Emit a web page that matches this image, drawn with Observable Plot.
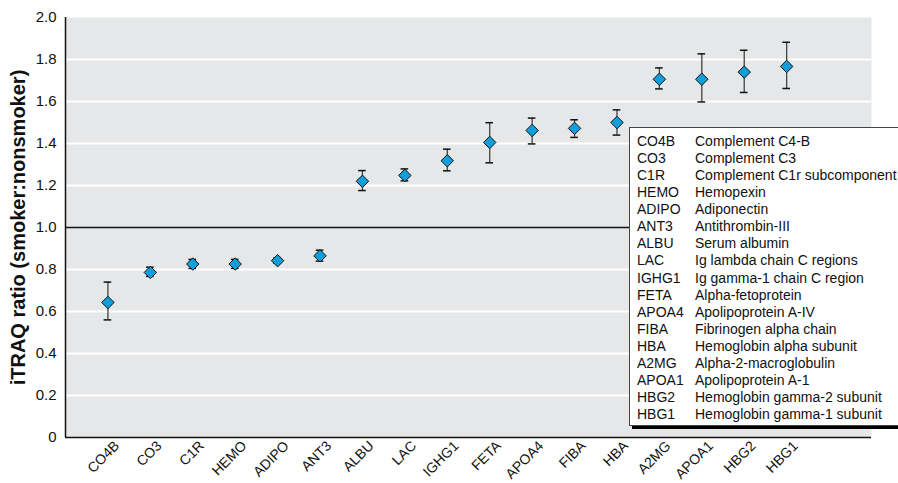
<!DOCTYPE html>
<html>
<head>
<meta charset="utf-8">
<script src="https://cdn.jsdelivr.net/npm/d3@7"></script>
<script src="https://cdn.jsdelivr.net/npm/@observablehq/plot@0.6"></script>
<style>
  html, body { margin: 0; padding: 0; background: #fff; }
  #wrap { position: relative; width: 898px; height: 483px; overflow: hidden; }
  #legend {
    position: absolute; left: 629px; top: 127px; width: 300px; height: 299px;
    background: #fff; border: 1px solid #444; box-shadow: 3px 3px 0 #000;
    font-family: "Liberation Sans", Arial, sans-serif;
    font-size: 14px; line-height: 17.06px; color: #111; padding-top: 5px; box-sizing: border-box;
  }
  #legend .row { display: flex; white-space: nowrap; }
  #legend .ab { flex: none; width: 58px; padding-left: 7px; }
</style>
</head>
<body>
<div id="wrap"><div id="chart"></div><div id="legend"></div></div>
<script>
const names = ["CO4B","CO3","C1R","HEMO","ADIPO","ANT3","ALBU","LAC","IGHG1","FETA","APOA4","FIBA","HBA","A2MG","APOA1","HBG2","HBG1"];
const fullNames = ["Complement C4-B","Complement C3","Complement C1r subcomponent","Hemopexin","Adiponectin","Antithrombin-III","Serum albumin","Ig lambda chain C regions","Ig gamma-1 chain C region","Alpha-fetoprotein","Apolipoprotein A-IV","Fibrinogen alpha chain","Hemoglobin alpha subunit","Alpha-2-macroglobulin","Apolipoprotein A-1","Hemoglobin gamma-2 subunit","Hemoglobin gamma-1 subunit"];
const ratio = [0.643,0.786,0.826,0.826,0.842,0.865,1.220,1.248,1.318,1.405,1.462,1.472,1.500,1.706,1.706,1.740,1.767];
const lower = [0.560,0.767,0.805,0.805,0.830,0.840,1.176,1.222,1.270,1.308,1.398,1.429,1.440,1.660,1.598,1.643,1.662];
const upper = [0.740,0.811,0.848,0.848,0.855,0.892,1.271,1.279,1.373,1.499,1.521,1.513,1.560,1.760,1.827,1.844,1.882];
const yTicks = [0,0.2,0.4,0.6,0.8,1.0,1.2,1.4,1.6,1.8,2.0];
const gridTicks = [0.2,0.4,0.6,0.8,1.2,1.4,1.6,1.8];
const yLabel = "iTRAQ ratio (smoker:nonsmoker)";

const data = names.map((n, k) => ({i: k + 1, name: n, full: fullNames[k], r: ratio[k], lo: lower[k], hi: upper[k]}));
const font = "'Liberation Sans', Arial, sans-serif";

const chart = Plot.plot({
  width: 898, height: 483,
  marginLeft: 65, marginRight: 27, marginTop: 17, marginBottom: 46,
  style: {fontFamily: font, fontSize: "15px", color: "#111", background: "transparent"},
  x: {type: "linear", domain: [0, 19]},
  y: {domain: [0, 2]},
  marks: [
    Plot.frame({fill: "#e6e7e8", stroke: null}),
    Plot.ruleY(gridTicks, {stroke: "#fff", strokeWidth: 1.8}),
    Plot.ruleY([1], {stroke: "#111", strokeWidth: 1.6}),
    Plot.axisY({ticks: yTicks, tickSize: 0, tickPadding: 9, tickFormat: d => d === 0 ? "0" : d.toFixed(1), fontSize: 15, label: null}),
    Plot.axisX({ticks: data.map(d => d.i), tickFormat: i => names[i - 1], tickRotate: -45, tickSize: 0, tickPadding: 6, fontSize: 14, label: null, dx: 9}),
    Plot.text([yLabel], {frameAnchor: "left", textAnchor: "middle", rotate: -90, dx: -47, fontWeight: "bold", fontSize: 20, fill: "#111"}),
    Plot.ruleX(data, {x: "i", y1: "lo", y2: "hi", stroke: "#444", strokeWidth: 1.3}),
    Plot.ruleY(data, {y: "lo", x1: d => d.i - 0.09, x2: d => d.i + 0.09, stroke: "#111", strokeWidth: 1.5}),
    Plot.ruleY(data, {y: "hi", x1: d => d.i - 0.09, x2: d => d.i + 0.09, stroke: "#111", strokeWidth: 1.5}),
    Plot.dot(data, {x: "i", y: "r", symbol: "diamond2", r: 5.6, fill: "#119fdc", stroke: "#111", strokeWidth: 1, fillOpacity: 1}),
    Plot.ruleX([0], {stroke: "#111", strokeWidth: 1.5}),
    Plot.ruleY([0], {stroke: "#111", strokeWidth: 1.5})
  ]
});
document.getElementById("chart").appendChild(chart);

const legend = document.getElementById("legend");
data.forEach(d => {
  const row = document.createElement("div");
  row.className = "row";
  const a = document.createElement("span"); a.className = "ab"; a.textContent = d.name;
  const b = document.createElement("span"); b.textContent = d.full;
  row.appendChild(a); row.appendChild(b);
  legend.appendChild(row);
});
</script>
</body>
</html>
